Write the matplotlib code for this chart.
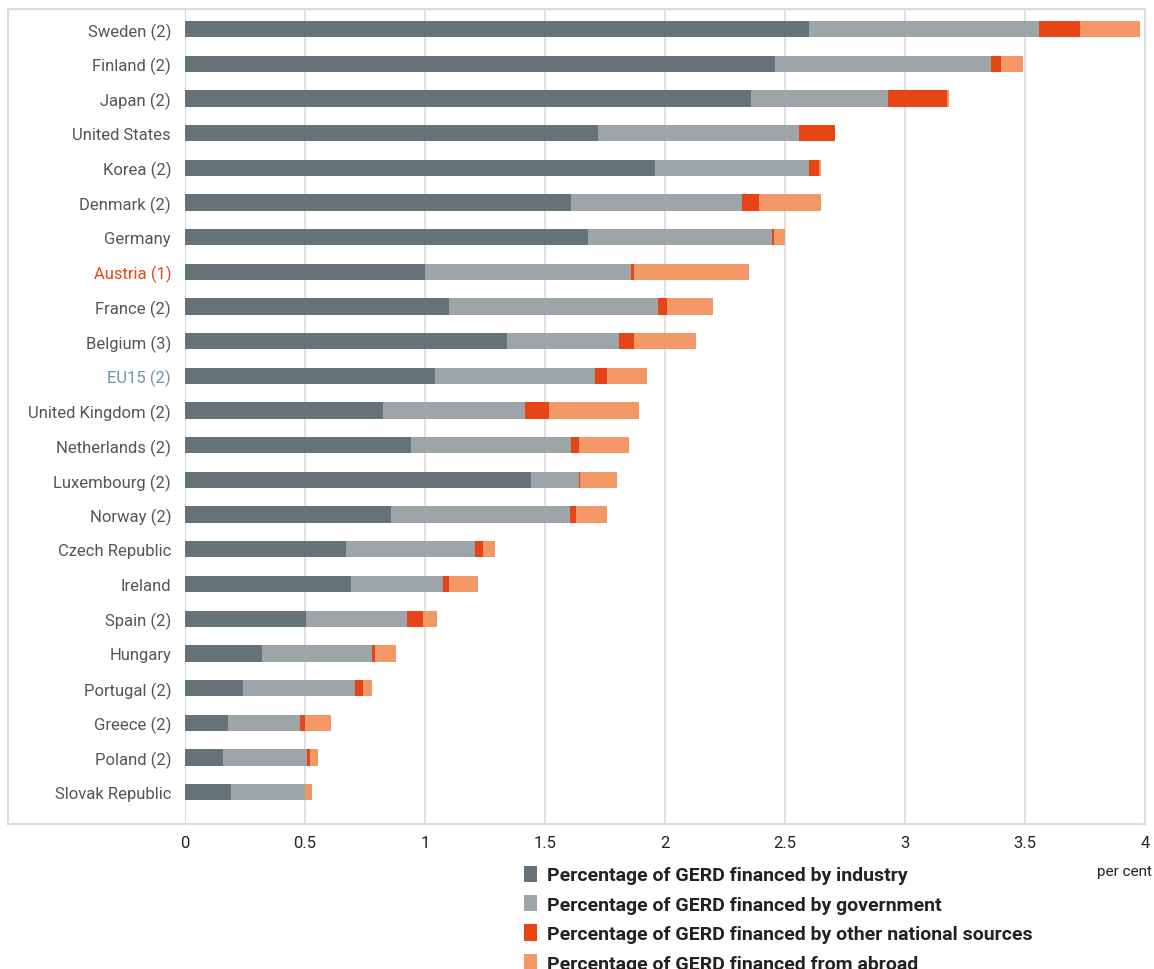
import matplotlib.pyplot as plt
from matplotlib.patches import Rectangle, Patch

# GERD financing shares, per cent of GDP
countries = ['Sweden (2)', 'Finland (2)', 'Japan (2)', 'United States', 'Korea (2)',
             'Denmark (2)', 'Germany', 'Austria (1)', 'France (2)', 'Belgium (3)',
             'EU15 (2)', 'United Kingdom (2)', 'Netherlands (2)', 'Luxembourg (2)',
             'Norway (2)', 'Czech Republic', 'Ireland', 'Spain (2)', 'Hungary',
             'Portugal (2)', 'Greece (2)', 'Poland (2)', 'Slovak Republic']
industry = [2.60, 2.46, 2.36, 1.72, 1.96, 1.61, 1.68, 1.00, 1.10, 1.34, 1.04, 0.825,
            0.94, 1.44, 0.86, 0.67, 0.69, 0.505, 0.32, 0.24, 0.18, 0.16, 0.19]
government = [0.96, 0.90, 0.57, 0.84, 0.64, 0.71, 0.765, 0.86, 0.87, 0.47, 0.67, 0.59,
              0.67, 0.20, 0.745, 0.54, 0.385, 0.42, 0.46, 0.47, 0.30, 0.35, 0.31]
other_national = [0.17, 0.04, 0.245, 0.15, 0.04, 0.07, 0.01, 0.01, 0.04, 0.06, 0.05, 0.10,
                  0.03, 0.005, 0.025, 0.03, 0.025, 0.065, 0.01, 0.03, 0.02, 0.01, 0.0]
abroad = [0.25, 0.09, 0.01, 0.0, 0.01, 0.26, 0.045, 0.48, 0.19, 0.26, 0.165, 0.375,
          0.21, 0.155, 0.13, 0.05, 0.12, 0.06, 0.09, 0.04, 0.11, 0.035, 0.03]

series = [industry, government, other_national, abroad]
series_names = ['Percentage of GERD financed by industry',
                'Percentage of GERD financed by government',
                'Percentage of GERD financed by other national sources',
                'Percentage of GERD financed from abroad']
colors = ['#657278', '#9ea5a8', '#e84517', '#f29866']

plt.rcParams['font.family'] = ['Roboto', 'DejaVu Sans']

W, H = 1154, 970
fig = plt.figure(figsize=(W / 100, H / 100), dpi=100)
ax = fig.add_axes([185 / W, 1 - 825 / H, (1145 - 185) / W, (825 - 10) / H])

pos = list(range(len(countries)))
left = [0.0] * len(countries)
for vals, col in zip(series, colors):
    ax.barh(pos, vals, left=left, height=0.47, color=col, zorder=3)
    left = [l + v for l, v in zip(left, vals)]

ax.set_xlim(0, 4)
ax.set_ylim(len(countries) - 1 + 0.92, -0.58)
ax.set_xticks([0, 0.5, 1, 1.5, 2, 2.5, 3, 3.5, 4])
ax.set_xticklabels(['0', '0.5', '1', '1.5', '2', '2.5', '3', '3.5', '4'])
ax.grid(axis='x', color='#dcdcdc', linewidth=1.2, zorder=0)
ax.set_yticks(pos)
ax.set_yticklabels(countries)
ax.tick_params(axis='both', length=0, labelsize=12, colors='#555555')
ax.tick_params(axis='x', pad=8, labelcolor='#222222')
ax.tick_params(axis='y', pad=10)
for lab in ax.get_yticklabels():
    if lab.get_text() == 'Austria (1)':
        lab.set_color('#e84517')
    elif lab.get_text() == 'EU15 (2)':
        lab.set_color('#6a96a8')
for s in ax.spines.values():
    s.set_visible(False)
ax.spines['left'].set_visible(True)
ax.spines['left'].set_color('#dcdcdc')

# outer frame around labels and plot
fig.add_artist(Rectangle((8 / W, 1 - 825 / H), (1145 - 8) / W, (825 - 10) / H,
                         transform=fig.transFigure, fill=False,
                         edgecolor='#dcdcdc', linewidth=1.5))

handles = [Patch(facecolor=c, edgecolor='none') for c in colors]
fig.legend(handles, series_names, loc='upper left', bbox_to_anchor=(506 / W, 1 - 849 / H),
           frameon=False, handlelength=0.7, handleheight=0.9, handletextpad=0.5,
           labelspacing=0.55, prop={'size': 14, 'weight': 'semibold'}, labelcolor='#222222')
fig.text(1152 / W, 1 - 872 / H, 'per cent', fontsize=11, color='#222222',
         va='center', ha='right')

fig.savefig('out.png', dpi=100)
